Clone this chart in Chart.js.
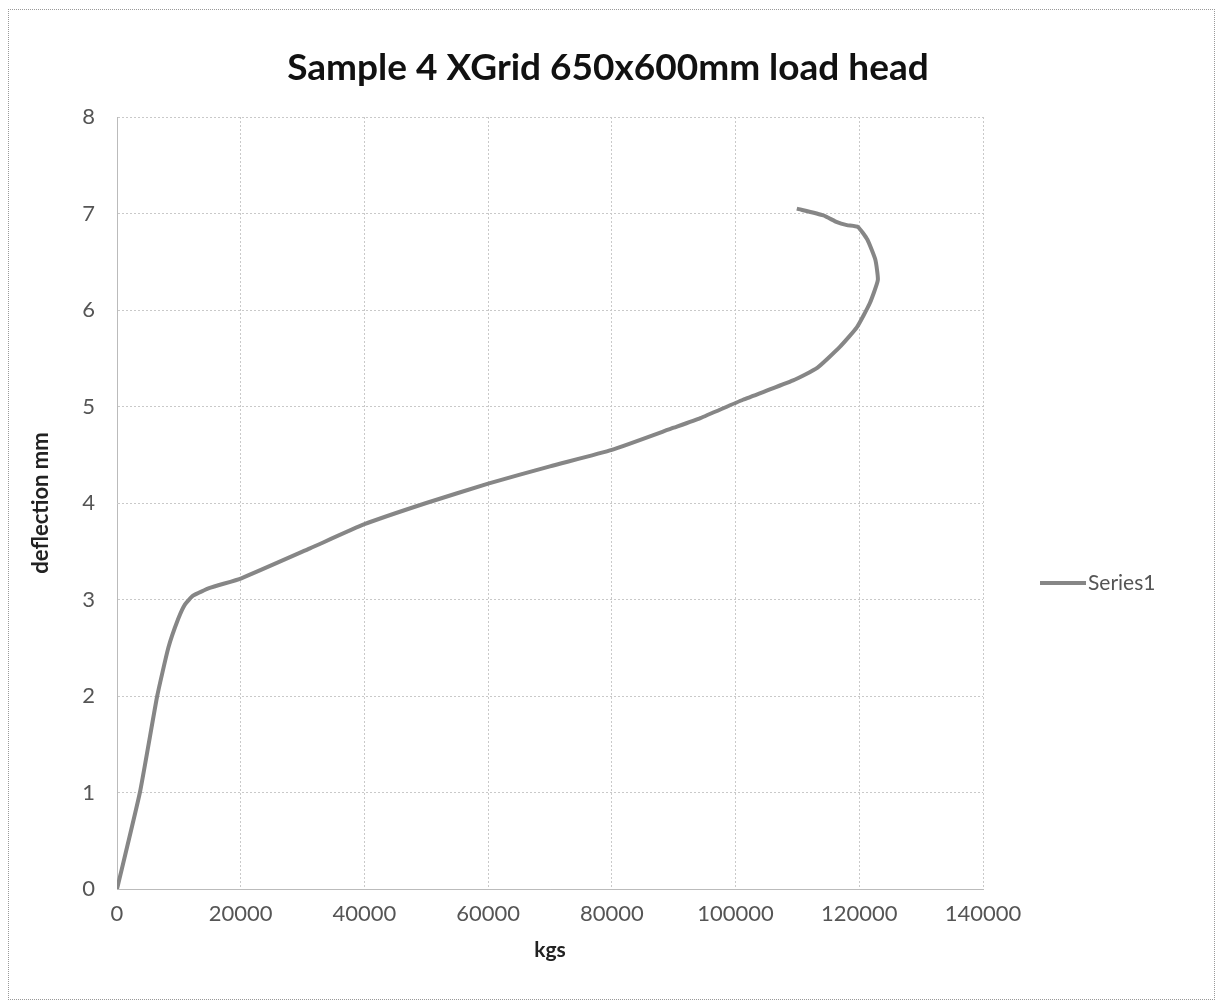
<!DOCTYPE html>
<html>
<head>
<meta charset="utf-8">
<script src="https://cdn.jsdelivr.net/npm/chart.js@4.4.1/dist/chart.umd.min.js"></script>
<style>
  body { margin: 0; background: #fff; }
  #wrap { position: relative; width: 1218px; height: 1007px; }
  #frame { position: absolute; left: 8px; top: 9px; right: 3px; bottom: 7px; border: 1px dotted #999; }
</style>
</head>
<body>
<div id="wrap">
  <div id="frame"></div>
  <canvas id="chart" width="1218" height="1007"></canvas>
</div>
<script>
Chart.defaults.font.family = "Lato, 'Open Sans', sans-serif";

var chartTitle = 'Sample 4 XGrid 650x600mm load head';
var loadKgs = [0, 3700, 6500, 8300, 9900, 11000, 12300, 15000, 20100, 31200, 40000, 50000, 60000, 70000, 80000, 90000, 94300, 101200, 109300, 113200, 116900, 119600, 121700, 123000, 122600, 121300, 119800, 118000, 116400, 114200, 109900];
var deflectionMm = [0, 1.0, 2.0, 2.5, 2.8, 2.95, 3.04, 3.12, 3.22, 3.53, 3.78, 4.0, 4.2, 4.38, 4.55, 4.78, 4.88, 5.07, 5.27, 5.40, 5.62, 5.82, 6.07, 6.31, 6.52, 6.73, 6.86, 6.88, 6.91, 6.98, 7.05];
var xTicks = [0, 20000, 40000, 60000, 80000, 100000, 120000, 140000];
var yTicks = [0, 1, 2, 3, 4, 5, 6, 7, 8];

var points = loadKgs.map(function (x, i) { return { x: x, y: deflectionMm[i] }; });

// title centred on the whole canvas + legend at the right, like Excel
var excelBits = {
	id: 'excelBits',
	afterDraw: function (chart) {
		var ctx = chart.ctx;
		var ds = chart.data.datasets[0];
		ctx.save();
		ctx.fillStyle = '#111';
		ctx.font = "bold 37px Lato, 'Open Sans', sans-serif";
		ctx.textAlign = 'center';
		ctx.textBaseline = 'middle';
		ctx.fillText(chartTitle, 608, 68);

		var y = 583;
		ctx.strokeStyle = ds.borderColor;
		ctx.lineWidth = 4;
		ctx.beginPath();
		ctx.moveTo(1040, y);
		ctx.lineTo(1086, y);
		ctx.stroke();
		ctx.fillStyle = '#555';
		ctx.font = "21px Lato, 'Open Sans', sans-serif";
		ctx.textAlign = 'left';
		ctx.fillText(ds.label, 1088, y);
		ctx.restore();
	}
};

var gridStyle = {
	color: '#c9c9c9',
	lineWidth: 1,
	drawTicks: false
};

var ctx = document.getElementById("chart").getContext("2d");
var myChart = new Chart(ctx, {
	type: 'scatter',
	data: {
		datasets: [{
			label: 'Series1',
			data: points,
			showLine: true,
			borderColor: '#868686',
			backgroundColor: '#868686',
			borderWidth: 4,
			pointRadius: 0,
			tension: 0.15
		}]
	},
	options: {
		responsive: false,
		animation: false,
		layout: { padding: { left: 0, right: 235, top: 117, bottom: 0 } },
		plugins: {
			legend: { display: false },
			tooltip: { enabled: false },
			title: { display: false }
		},
		scales: {
			x: {
				type: 'linear',
				min: 0,
				max: 140000,
				afterBuildTicks: function (scale) {
					scale.ticks = xTicks.map(function (v) { return { value: v }; });
				},
				afterFit: function (scale) { scale.height = 118; },
				ticks: {
					color: '#555',
					font: { size: 22 },
					padding: 12,
					callback: function (v) { return String(v); }
				},
				grid: gridStyle,
				border: { color: '#bbb', dash: [2, 2] },
				title: {
					display: true,
					text: 'kgs',
					color: '#222',
					font: { size: 21, weight: 'bold' },
					padding: { top: 0, bottom: 44 }
				}
			},
			y: {
				min: 0,
				max: 8,
				afterBuildTicks: function (scale) {
					scale.ticks = yTicks.map(function (v) { return { value: v }; });
				},
				afterFit: function (scale) { scale.width = 117; },
				ticks: {
					color: '#555',
					font: { size: 22 },
					padding: 22
				},
				grid: gridStyle,
				border: { color: '#bbb', dash: [2, 2] },
				title: {
					display: true,
					text: 'deflection mm',
					color: '#222',
					font: { size: 22, weight: 'bold' },
					padding: { top: 28, bottom: 0 }
				}
			}
		}
	},
	plugins: [excelBits]
});
</script>
</body>
</html>
